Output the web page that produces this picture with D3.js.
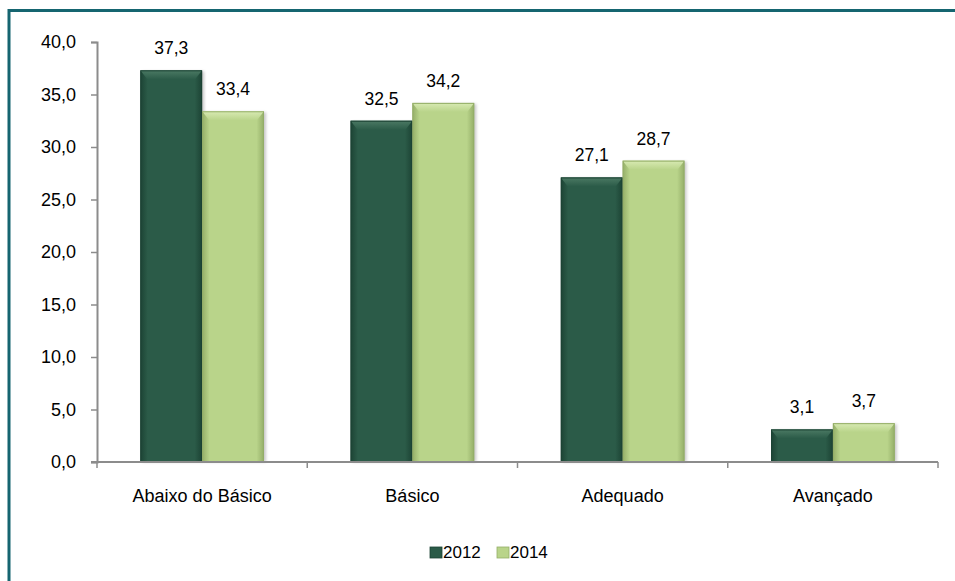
<!DOCTYPE html>
<html>
<head>
<meta charset="utf-8">
<script src="https://cdn.jsdelivr.net/npm/d3@7"></script>
<style>
  html, body { margin: 0; padding: 0; background: #fff; }
  svg { display: block; font-family: "Liberation Sans", Arial, sans-serif; }
</style>
</head>
<body>
<svg id="chart" width="955" height="581"></svg>
<script>
// Proficiency levels and percentage per year
const categories = ["Abaixo do Básico", "Básico", "Adequado", "Avançado"];
const years = ["2012", "2014"];
const values2012 = [37.3, 32.5, 27.1, 3.1];
const values2014 = [33.4, 34.2, 28.7, 3.7];
const yTicks = [0, 5, 10, 15, 20, 25, 30, 35, 40];

const seriesValues = { "2012": values2012, "2014": values2014 };
const palette = {
  "2012": { base: "#2b5b48", light: "#4f7d67", dark: "#1c4334" },
  "2014": { base: "#b9d48a", light: "#dcedb8", dark: "#94ae68" }
};

const svg = d3.select("#chart");
const W = 955, H = 581;
const margin = { left: 97, right: 17, top: 42, bottom: 119 };
const FONT = "'Liberation Sans', Arial, sans-serif";

// frame
svg.append("rect")
  .attr("x", 9).attr("y", 10.5)
  .attr("width", W + 20).attr("height", H + 20)
  .attr("fill", "none").attr("stroke", "#156570").attr("stroke-width", 3);

const x0 = d3.scaleBand().domain(categories)
  .range([margin.left, W - margin.right]).paddingInner(0).paddingOuter(0);
const x1 = d3.scaleBand().domain(years)
  .range([0, x0.bandwidth()]).paddingInner(0).paddingOuter(0.7);
const y = d3.scaleLinear().domain([0, 40]).range([H - margin.bottom, margin.top]);

const fmt = v => d3.format(".1f")(v).replace(".", ",");

const defs = svg.append("defs");
years.forEach(yr => {
  const p = palette[yr];
  const g = defs.append("linearGradient").attr("id", "grad" + yr)
    .attr("x1", 0).attr("x2", 1).attr("y1", 0).attr("y2", 0);
  g.append("stop").attr("offset", "0%").attr("stop-color", p.dark);
  g.append("stop").attr("offset", "12%").attr("stop-color", p.base);
  g.append("stop").attr("offset", "88%").attr("stop-color", p.base);
  g.append("stop").attr("offset", "100%").attr("stop-color", p.dark);
  const t = defs.append("linearGradient").attr("id", "top" + yr)
    .attr("x1", 0).attr("x2", 0).attr("y1", 0).attr("y2", 1);
  t.append("stop").attr("offset", "0%").attr("stop-color", p.light);
  t.append("stop").attr("offset", "100%").attr("stop-color", p.base);
});
const blur = defs.append("filter").attr("id", "shadow")
  .attr("x", "-20%").attr("y", "-20%").attr("width", "140%").attr("height", "140%");
blur.append("feGaussianBlur").attr("stdDeviation", 1.5);

// y axis
const yAxis = svg.append("g")
  .attr("transform", `translate(${margin.left},0)`)
  .call(d3.axisLeft(y).tickValues(yTicks).tickFormat(fmt).tickSize(6).tickPadding(15));
yAxis.select(".domain").attr("stroke", "#8c8c8c").attr("stroke-width", 2);
yAxis.selectAll(".tick line").attr("stroke", "#8c8c8c").attr("stroke-width", 1.5);
yAxis.selectAll(".tick text").attr("font-size", 18).attr("fill", "#000")
  .attr("font-family", FONT);

// bars
const groups = svg.append("g").selectAll("g")
  .data(categories).join("g")
  .attr("transform", d => `translate(${x0(d)},0)`);

const barData = (c, i) => years.map(yr => ({ yr, v: seriesValues[yr][i] }));

groups.each(function (c, i) {
  const g = d3.select(this);
  const data = barData(c, i);
  // soft shadow
  g.selectAll("rect.sh").data(data).join("rect")
    .attr("x", d => x1(d.yr) + 2).attr("y", d => y(d.v) + 1)
    .attr("width", x1.bandwidth()).attr("height", d => y(0) - y(d.v) - 1)
    .attr("fill", "#000").attr("opacity", 0.22).attr("filter", "url(#shadow)");
  g.selectAll("rect.bar").data(data).join("rect")
    .attr("x", d => x1(d.yr)).attr("y", d => y(d.v))
    .attr("width", x1.bandwidth()).attr("height", d => y(0) - y(d.v))
    .attr("fill", d => `url(#grad${d.yr})`);
  // bevel on top edge
  g.selectAll("path.bevel").data(data).join("path")
    .attr("d", d => {
      const xa = x1(d.yr), xb = xa + x1.bandwidth(), yt = y(d.v);
      const b = Math.min(9, (y(0) - yt) / 2);
      return `M${xa},${yt}L${xb},${yt}L${xb - 7},${yt + b}L${xa + 7},${yt + b}Z`;
    })
    .attr("fill", d => `url(#top${d.yr})`).attr("opacity", 0.9);
  g.selectAll("rect.edge").data(data).join("rect")
    .attr("x", d => x1(d.yr) + 0.5).attr("y", d => y(d.v) + 0.5)
    .attr("width", x1.bandwidth() - 1).attr("height", d => y(0) - y(d.v) - 1)
    .attr("fill", "none").attr("stroke", d => palette[d.yr].dark).attr("stroke-width", 1);
  // value labels
  g.selectAll("text.val").data(data).join("text")
    .attr("x", d => x1(d.yr) + x1.bandwidth() / 2)
    .attr("y", d => y(d.v) - 16)
    .attr("text-anchor", "middle").attr("font-size", 17.5).attr("fill", "#000")
    .text(d => fmt(d.v));
});

// x axis
const xAxis = svg.append("g")
  .attr("transform", `translate(0,${y(0)})`)
  .call(d3.axisBottom(x0).tickSize(0).tickPadding(27));
xAxis.select(".domain").remove();
xAxis.append("line")
  .attr("x1", margin.left - 6).attr("x2", W - margin.right)
  .attr("stroke", "#8c8c8c").attr("stroke-width", 2);
xAxis.selectAll(".sep").data(categories.map(c => x0(c)).concat([W - margin.right]))
  .join("line").attr("class", "sep")
  .attr("x1", d => d).attr("x2", d => d).attr("y1", 0).attr("y2", 6)
  .attr("stroke", "#8c8c8c").attr("stroke-width", 1.5);
xAxis.selectAll(".tick text").attr("font-size", 18).attr("fill", "#000")
  .attr("font-family", FONT);

// legend
const legend = svg.append("g").attr("transform", "translate(430,558)");
const lg = legend.selectAll("g").data(years).join("g")
  .attr("transform", (d, i) => `translate(${i * 67},0)`);
lg.append("rect").attr("x", 0).attr("y", -11).attr("width", 12).attr("height", 11)
  .attr("fill", d => palette[d].base).attr("stroke", d => palette[d].dark).attr("stroke-width", 0.8);
lg.append("text").attr("x", 13).attr("y", 0).attr("font-size", 17).attr("fill", "#000")
  .text(d => d);
</script>
</body>
</html>
